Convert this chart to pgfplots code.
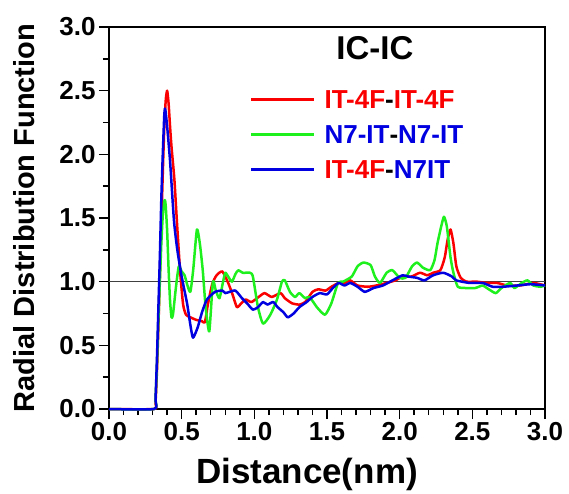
\documentclass[border=0pt]{standalone}
\usepackage{fontspec}
\setmainfont{Liberation Sans}
\usepackage{pgfplots}
\pgfplotsset{compat=1.18}
\definecolor{cred}{RGB}{250,0,0}
\definecolor{cgreen}{RGB}{30,240,30}
\definecolor{cblue}{RGB}{0,0,225}

\begin{document}
\begin{tikzpicture}
\begin{axis}[
    name=ax,
    scale only axis,
    width=436pt, height=382pt,
    xmin=0, xmax=3, ymin=0, ymax=3,
    xtick={0,0.5,1,1.5,2,2.5,3},
    ytick={0,0.5,1,1.5,2,2.5,3},
    minor x tick num=4, minor y tick num=1,
    tick align=outside, xtick pos=bottom, ytick pos=left,
    major tick length=10pt, minor tick length=6pt,
    every tick/.style={black, line width=1.5pt},
    axis line style={line width=2pt},
    clip=false,
    every axis plot/.append style={line join=round, smooth, tension=0.35},
    /pgf/number format/.cd, fixed, fixed zerofill, precision=1, assume math mode=true,
    /pgfplots/.cd,
    ticklabel style={font=\fontsize{26}{26}\selectfont\bfseries},
    every axis x label/.style={at={(rel axis cs:0.454,0)}, anchor=base, yshift=-74pt,
        font=\fontsize{35}{35}\selectfont\bfseries},
    every axis y label/.style={at={(rel axis cs:-0.172,0.5)}, rotate=90, anchor=base,
        font=\fontsize{29}{29}\selectfont\bfseries},
    xlabel={Distance(nm)},
    ylabel={Radial Distribution Function},
    legend image code/.code={\draw[#1] (0pt,0pt) -- (63pt,0pt);},
    legend cell align=left,
    legend style={draw=none, fill=none, at={(rel axis cs:0.323,0.836)}, anchor=north west,
        inner sep=0pt, row sep=16pt,
        font=\fontsize{26}{26}\selectfont\bfseries,
        nodes={inner sep=0pt, text height=19pt, text depth=0pt},
        /tikz/every odd column/.append style={column sep=9pt}},
]
\addplot[black!75, line width=0.8pt, forget plot] coordinates {(0,1) (3,1)};

\addplot[cred, line width=2.5pt] coordinates {
(0,0) (0.31,0) (0.32,0.05) (0.33,0.3) (0.34,0.65) (0.35,1.05) (0.36,1.45) (0.37,1.85)
(0.38,2.2) (0.39,2.42) (0.40,2.50) (0.41,2.40) (0.42,2.22) (0.43,2.06) (0.45,1.80)
(0.47,1.42) (0.49,1.07) (0.51,0.82) (0.53,0.74) (0.56,0.72) (0.60,0.70) (0.64,0.69)
(0.66,0.68) (0.68,0.82) (0.71,0.98) (0.74,1.05) (0.78,1.08) (0.82,0.99) (0.85,0.90)
(0.88,0.80) (0.91,0.83) (0.94,0.86) (0.98,0.84) (1.03,0.88) (1.07,0.91) (1.12,0.88)
(1.18,0.91) (1.21,0.87) (1.26,0.83) (1.31,0.82) (1.35,0.84) (1.40,0.92) (1.44,0.94)
(1.49,0.93) (1.53,0.96) (1.58,0.99) (1.62,0.99) (1.66,1.01) (1.71,0.97) (1.78,0.96)
(1.84,0.97) (1.91,0.99) (1.97,1.01) (2.02,1.04) (2.08,1.04) (2.14,1.07) (2.19,1.05)
(2.23,1.07) (2.28,1.09) (2.31,1.19) (2.33,1.33) (2.35,1.41) (2.37,1.30) (2.39,1.12)
(2.42,1.03) (2.46,1.00) (2.53,1.00) (2.60,0.99) (2.67,0.99) (2.74,0.97) (2.83,0.97)
(2.92,0.99) (3.0,0.97)
};
\addlegendentry{\textcolor{cred}{IT-4F}-\textcolor{cred}{IT-4F}}

\addplot[cgreen, line width=2.5pt] coordinates {
(0,0) (0.31,0) (0.32,0.08) (0.33,0.35) (0.34,0.7) (0.35,1.0) (0.36,1.3) (0.37,1.52)
(0.38,1.63) (0.385,1.64) (0.39,1.6) (0.40,1.4) (0.41,1.1) (0.42,0.85) (0.43,0.72)
(0.44,0.74) (0.46,0.95) (0.48,1.12) (0.50,1.08) (0.52,1.05) (0.54,0.97) (0.56,0.92)
(0.58,1.10) (0.605,1.41) (0.625,1.30) (0.645,1.09) (0.665,0.80) (0.69,0.61) (0.715,1.0)
(0.735,0.93) (0.76,0.87) (0.785,1.0) (0.80,1.07) (0.82,1.04) (0.846,1.0) (0.87,1.06)
(0.89,1.09) (0.92,1.07) (0.97,1.07) (0.99,1.04) (1.025,0.80) (1.06,0.67) (1.11,0.74)
(1.156,0.86) (1.19,1.0) (1.21,1.01) (1.245,0.92) (1.28,0.88) (1.31,0.91) (1.35,0.87)
(1.38,0.88) (1.43,0.80) (1.486,0.74) (1.53,0.83) (1.576,0.99) (1.61,1.0) (1.67,1.04)
(1.71,1.12) (1.75,1.15) (1.80,1.13) (1.83,1.04) (1.865,0.99) (1.91,1.07) (1.95,1.09)
(2.0,1.03) (2.04,1.03) (2.085,1.12) (2.12,1.15) (2.16,1.11) (2.21,1.09) (2.24,1.17)
(2.26,1.30) (2.285,1.43) (2.305,1.51) (2.325,1.43) (2.35,1.19) (2.37,1.07) (2.40,0.96)
(2.46,0.95) (2.52,0.95) (2.57,0.97) (2.60,0.95) (2.66,0.91) (2.70,0.95) (2.76,0.99)
(2.79,0.95) (2.84,0.99) (2.88,1.01) (2.92,0.97) (2.97,0.96) (3.0,0.97)
};
\addlegendentry{\textcolor{cblue}{N7-IT}-\textcolor{cblue}{N7-IT}}

\addplot[cblue, line width=2.5pt] coordinates {
(0,0) (0.31,0) (0.32,0.08) (0.33,0.4) (0.34,0.8) (0.35,1.2) (0.36,1.65) (0.37,2.0)
(0.38,2.3) (0.385,2.36) (0.39,2.33) (0.40,2.22) (0.42,1.95) (0.447,1.48) (0.47,1.25)
(0.50,1.04) (0.537,0.83) (0.56,0.66) (0.578,0.56) (0.61,0.64) (0.64,0.76) (0.674,0.86)
(0.73,0.92) (0.78,0.93) (0.80,0.91) (0.83,0.92) (0.87,0.93) (0.915,0.87) (0.95,0.83)
(0.99,0.78) (1.025,0.80) (1.06,0.84) (1.09,0.82) (1.13,0.84) (1.16,0.80) (1.20,0.76)
(1.23,0.72) (1.27,0.75) (1.31,0.80) (1.36,0.84) (1.40,0.88) (1.45,0.91) (1.50,0.90)
(1.54,0.95) (1.58,0.99) (1.62,0.97) (1.66,0.99) (1.71,0.96) (1.76,0.92) (1.82,0.95)
(1.885,0.97) (1.95,1.01) (2.02,1.05) (2.06,1.04) (2.12,1.03) (2.17,1.01) (2.23,1.05)
(2.30,1.07) (2.36,1.04) (2.39,1.01) (2.48,0.99) (2.57,0.99) (2.64,0.96) (2.71,0.96)
(2.81,0.97) (2.90,0.98) (3.0,0.97)
};
\addlegendentry{\textcolor{cred}{IT-4F}-\textcolor{cblue}{N7IT}}

\node[font=\fontsize{33}{33}\selectfont\bfseries] at (rel axis cs:0.61,0.945) {IC-IC};
\end{axis}
\path (ax.south west) ++(-109pt,-81pt) rectangle ++(569pt,490pt);
\end{tikzpicture}
\end{document}
